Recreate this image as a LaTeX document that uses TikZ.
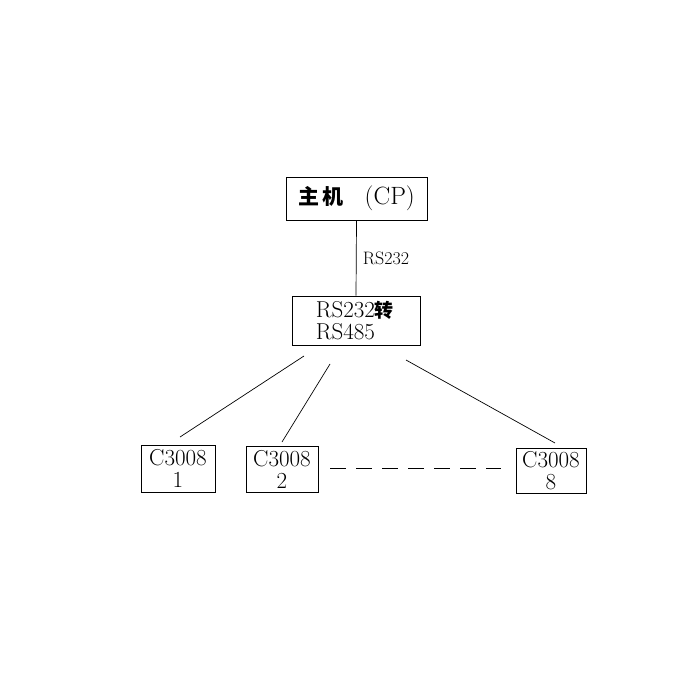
\documentclass[tikz,border=0pt]{standalone}
\usepackage{fontspec}
\newfontfamily\cjk{Noto Sans CJK SC}
\begin{document}
\begin{tikzpicture}[x=1pt,y=-1pt,
  box/.style={draw,line width=0.9pt,inner sep=0pt},
  big/.style={font=\fontsize{23}{22}\selectfont},
  con/.style={line width=0.7pt}]
\useasboundingbox (0,0) rectangle (700,700);
\node[box,minimum width=141pt,minimum height=43pt] (cp) at (356.5,198.5) {\cjk\bfseries\fontsize{21}{22}\selectfont 主\,机\quad\normalfont\fontsize{25}{22}\selectfont(CP)};
\node[box,minimum width=128pt,minimum height=49pt,big,align=left] (cv) at (356,320.5) {RS232{\cjk\bfseries\fontsize{19}{22}\selectfont 转}\\RS485\hphantom{00}};
\node[box,minimum width=74pt,minimum height=47pt,big,align=center] (c1) at (178,468.5) {C3008\\1};
\node[box,minimum width=72pt,minimum height=46pt,big,align=center] (c2) at (282,469) {C3008\\2};
\node[box,minimum width=70pt,minimum height=45pt,big,align=center] (c8) at (551,470.5) {C3008\\8};
\draw[con] (cp.south) -- node[right,font=\fontsize{18}{18}\selectfont,xshift=3pt] {RS232} (cv.north);
\coordinate (a1) at (304,356); \coordinate (b1) at (180,437);
\coordinate (a2) at (330,364); \coordinate (b2) at (282,442);
\coordinate (a3) at (406,360); \coordinate (b3) at (555,443);
\draw[con] (a1) -- (b1); \draw[con] (a2) -- (b2); \draw[con] (a3) -- (b3);
\coordinate (d1) at (330,468); \coordinate (d2) at (501,468);
\draw[con,dash pattern=on 16pt off 10pt] (d1) -- (d2);
\end{tikzpicture}
\end{document}
